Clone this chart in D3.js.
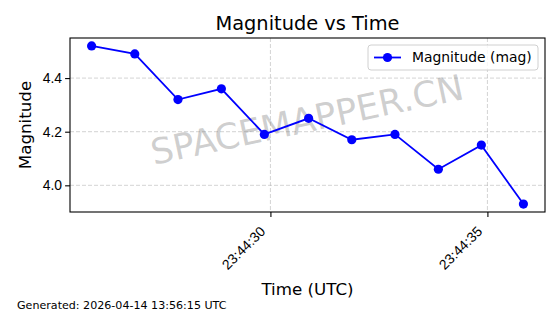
<!DOCTYPE html>
<html>
<head>
<meta charset="utf-8">
<script src="https://cdn.jsdelivr.net/npm/d3@7"></script>
<style>
  body { margin: 0; background: #fff; }
  svg { font-family: "DejaVu Sans", sans-serif; display: block; }
</style>
</head>
<body>
<svg id="chart" width="560" height="314"></svg>
<script>
const times = [
  "2026-04-14T23:44:25.880Z", "2026-04-14T23:44:26.875Z", "2026-04-14T23:44:27.870Z",
  "2026-04-14T23:44:28.870Z", "2026-04-14T23:44:29.860Z", "2026-04-14T23:44:30.880Z",
  "2026-04-14T23:44:31.875Z", "2026-04-14T23:44:32.870Z", "2026-04-14T23:44:33.870Z",
  "2026-04-14T23:44:34.860Z", "2026-04-14T23:44:35.830Z"
];
const magnitudes = [4.52, 4.49, 4.32, 4.36, 4.19, 4.25, 4.17, 4.19, 4.06, 4.15, 3.93];
const yTicks = [4.0, 4.2, 4.4];
const seriesName = "Magnitude (mag)";
const generatedText = "Generated: 2026-04-14 13:56:15 UTC";

const data = times.map((t, i) => ({ date: new Date(t), mag: magnitudes[i] }));

const margin = { top: 38, right: 15, bottom: 102, left: 70 },
      width = 560 - margin.left - margin.right,
      height = 314 - margin.top - margin.bottom;

const svg = d3.select("#chart");
const g = svg.append("g").attr("transform", `translate(${margin.left},${margin.top})`);

// matplotlib style 5% padding
const xExt = d3.extent(data, d => d.date.getTime());
const xPad = (xExt[1] - xExt[0]) * 0.05;
const x = d3.scaleUtc().domain([xExt[0] - xPad, xExt[1] + xPad]).range([0, width]);

const yExt = d3.extent(data, d => d.mag);
const yPad = (yExt[1] - yExt[0]) * 0.05;
const y = d3.scaleLinear().domain([yExt[0] - yPad, yExt[1] + yPad]).range([height, 0]);

const xTicks = x.ticks(d3.utcSecond.every(5));

// grid
g.append("g").selectAll("line").data(xTicks).join("line")
  .attr("x1", d => x(d)).attr("x2", d => x(d))
  .attr("y1", 0).attr("y2", height)
  .attr("stroke", "#b0b0b0").attr("stroke-opacity", 0.7)
  .attr("stroke-width", 0.8).attr("stroke-dasharray", "4,2");
g.append("g").selectAll("line").data(yTicks).join("line")
  .attr("x1", 0).attr("x2", width)
  .attr("y1", d => y(d)).attr("y2", d => y(d))
  .attr("stroke", "#b0b0b0").attr("stroke-opacity", 0.7)
  .attr("stroke-width", 0.8).attr("stroke-dasharray", "4,2");

// watermark
g.append("text")
  .attr("transform", `translate(${width / 2},${height / 2 - 3}) rotate(-12)`)
  .attr("text-anchor", "middle")
  .attr("dominant-baseline", "middle")
  .style("font-size", "35.5px")
  .attr("fill", "#808080").attr("fill-opacity", 0.38)
  .text("SPACEMAPPER.CN");

// series
const line = d3.line().x(d => x(d.date)).y(d => y(d.mag));
g.append("path").datum(data)
  .attr("d", line)
  .attr("fill", "none").attr("stroke", "#0000ff").attr("stroke-width", 1.8);
g.selectAll(".dot").data(data).join("circle")
  .attr("class", "dot")
  .attr("cx", d => x(d.date)).attr("cy", d => y(d.mag))
  .attr("r", 4.6).attr("fill", "#0000ff");

// axes
const xAxis = g.append("g")
  .attr("transform", `translate(0,${height})`)
  .call(d3.axisBottom(x).tickValues(xTicks).tickFormat(d3.utcFormat("%H:%M:%S")).tickSize(4.9).tickSizeOuter(0));
xAxis.selectAll("text")
  .style("font-size", "13.9px")
  .attr("text-anchor", "end")
  .attr("x", 0).attr("y", 0).attr("dy", "0.35em")
  .attr("transform", "rotate(-45)");

// align rotated labels like matplotlib: box right edge on the tick, top under the tick mark
const svgBox = svg.node().getBoundingClientRect();
xAxis.selectAll(".tick").each(function (d) {
  const t = d3.select(this).select("text");
  const r = t.node().getBoundingClientRect();
  const tickX = svgBox.left + margin.left + x(d) - 2;
  const topY = svgBox.top + margin.top + height + 4.9 + 6;
  t.attr("transform", `translate(${tickX - r.right},${topY - r.top}) rotate(-45)`);
});

const yAxis = g.append("g")
  .call(d3.axisLeft(y).tickValues(yTicks).tickFormat(d3.format(".1f")).tickSize(4.9).tickSizeOuter(0));
yAxis.selectAll("text").style("font-size", "13.9px").attr("x", -8);

[xAxis, yAxis].forEach(a => {
  a.select(".domain").remove();
  a.selectAll("line").attr("stroke", "#000").attr("stroke-width", 1.1);
  a.selectAll("text").attr("fill", "#000");
});

// frame
g.append("rect")
  .attr("width", width).attr("height", height)
  .attr("fill", "none").attr("stroke", "#000").attr("stroke-width", 1.1);

// legend
const lg = g.append("g").attr("transform", `translate(${width - 177},7)`);
lg.append("rect")
  .attr("width", 170).attr("height", 25).attr("rx", 3)
  .attr("fill", "#fff").attr("fill-opacity", 0.8)
  .attr("stroke", "#d0d0d0");
lg.append("line").attr("x1", 6).attr("x2", 33).attr("y1", 12.5).attr("y2", 12.5)
  .attr("stroke", "#0000ff").attr("stroke-width", 1.8);
lg.append("circle").attr("cx", 19.5).attr("cy", 12.5).attr("r", 4.6).attr("fill", "#0000ff");
lg.append("text").attr("x", 44).attr("y", 12.5).attr("dy", "0.35em")
  .style("font-size", "13.9px").text(seriesName);

// titles
svg.append("text")
  .attr("x", margin.left + width / 2).attr("y", 30)
  .attr("text-anchor", "middle").style("font-size", "19.4px")
  .text("Magnitude vs Time");
svg.append("text")
  .attr("x", margin.left + width / 2).attr("y", 295)
  .attr("text-anchor", "middle").style("font-size", "16.7px")
  .text("Time (UTC)");
svg.append("text")
  .attr("transform", `translate(31,${margin.top + height / 2}) rotate(-90)`)
  .attr("text-anchor", "middle").style("font-size", "16.7px")
  .text("Magnitude");
svg.append("text")
  .attr("x", 17).attr("y", 309)
  .style("font-size", "11.1px")
  .text(generatedText);
</script>
</body>
</html>
